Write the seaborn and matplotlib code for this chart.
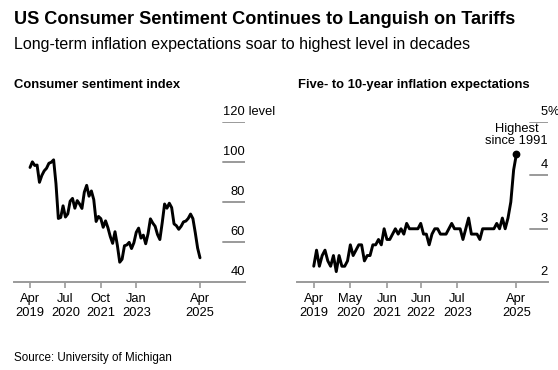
import matplotlib
matplotlib.use("Agg")
import matplotlib.pyplot as plt
import matplotlib.transforms as mtransforms
import seaborn as sns
import pandas as pd
import numpy as np

# ---------------- data ----------------
# monthly, April 2019 .. April 2025 (73 months)
sentiment = [
    97.2, 100.0, 98.2, 98.4, 89.8, 93.2, 95.5, 96.8, 99.3,            # 2019 Apr-Dec
    99.8, 101.0, 89.1, 71.8, 72.3, 78.1, 72.5, 74.1, 80.4, 81.8, 76.9, 80.7,  # 2020
    79.0, 76.8, 84.9, 88.3, 82.9, 85.5, 81.2, 70.3, 72.8, 71.7, 67.4, 70.6,  # 2021
    67.2, 62.8, 59.4, 65.2, 58.4, 50.0, 51.5, 58.2, 58.6, 59.9, 56.8, 59.7,  # 2022
    64.9, 67.0, 62.0, 63.5, 59.2, 64.2, 71.6, 69.5, 67.9, 63.8, 61.3, 69.7,  # 2023
    79.0, 76.9, 79.4, 77.2, 69.1, 68.2, 66.4, 67.9, 70.1, 70.5, 71.8, 74.0,  # 2024
    71.7, 64.7, 57.0, 52.2,                                             # 2025 Jan-Apr
]
inflation_exp = [
    2.3, 2.6, 2.3, 2.5, 2.6, 2.4, 2.3, 2.5, 2.2,                      # 2019 Apr-Dec
    2.5, 2.3, 2.3, 2.4, 2.7, 2.5, 2.6, 2.7, 2.7, 2.4, 2.5, 2.5,        # 2020
    2.7, 2.7, 2.8, 2.7, 3.0, 2.8, 2.8, 2.9, 3.0, 2.9, 3.0, 2.9,        # 2021
    3.1, 3.0, 3.0, 3.0, 3.0, 3.1, 2.9, 2.9, 2.7, 2.9, 3.0, 3.0,        # 2022
    2.9, 2.9, 2.9, 3.0, 3.1, 3.0, 3.0, 3.0, 2.8, 3.0, 3.2, 2.9,        # 2023
    2.9, 2.9, 2.8, 3.0, 3.0, 3.0, 3.0, 3.0, 3.1, 3.0, 3.2, 3.0,        # 2024
    3.2, 3.5, 4.1, 4.4,                                                # 2025
]
months = pd.date_range("2019-04-01", "2025-04-01", freq="MS")
month_idx = list(range(len(months)))

left_ticks = ["2019-04", "2020-07", "2021-10", "2023-01", "2025-04"]
right_ticks = ["2019-04", "2020-05", "2021-06", "2022-06", "2023-07", "2025-04"]
left_yticks = [40, 60, 80, 100, 120]
right_yticks = [2, 3, 4, 5]

title = "US Consumer Sentiment Continues to Languish on Tariffs"
subtitle = "Long-term inflation expectations soar to highest level in decades"
left_title = "Consumer sentiment index"
right_title = "Five- to 10-year inflation expectations"
source = "Source: University of Michigan"

df = pd.DataFrame({"m": month_idx, "sent": sentiment, "infl": inflation_exp})

# ---------------- style ----------------
sns.set_theme(style="white")
plt.rcParams["font.family"] = ["Liberation Sans", "DejaVu Sans"]

W, H = 558, 370
fig = plt.figure(figsize=(W / 100, H / 100), dpi=100)

def px_ax(x0, x1, ytop, ybot):
    return fig.add_axes([x0 / W, 1 - ybot / H, (x1 - x0) / W, (ybot - ytop) / H])

axL = px_ax(14, 245, 121.7, 282.3)
axR = px_ax(296.7, 547.5, 121.7, 282.3)

GRAY = "#9a9a9a"
TXT = "#000000"
FS = 9.3

def month_pos(s):
    p = pd.Period(s, "M") - pd.Period("2019-04", "M")
    return p.n

def style_axis(ax, yticks, grid_start, fmt_first, unit):
    for sp in ["top", "right", "left"]:
        ax.spines[sp].set_visible(False)
    ax.spines["bottom"].set_color(GRAY)
    ax.spines["bottom"].set_linewidth(1.4)
    ax.set_yticks([])
    ax.set_ylabel("")
    ax.set_xlabel("")
    ax.tick_params(axis="x", direction="out", length=4, width=1.2, color=GRAY,
                   pad=4, labelsize=FS, labelcolor=TXT, bottom=True)
    for lab in ax.get_xticklabels():
        lab.set_linespacing(1.15)
    trans = mtransforms.blended_transform_factory(ax.transAxes, ax.transData)
    for i, v in enumerate(yticks):
        if i > 0:
            ax.axhline(v, xmin=grid_start, xmax=1, color=GRAY, lw=1.4, zorder=1)
        ax.annotate(fmt_first(v), xy=(1, v), xycoords=trans, xytext=(0, 3.0),
                    textcoords="offset points", ha="right", va="bottom",
                    fontsize=FS, color=TXT, annotation_clip=False)
        if i == len(yticks) - 1:
            ax.annotate(unit, xy=(1, v), xycoords=trans, xytext=(0, 3.0),
                        textcoords="offset points", ha="left", va="bottom",
                        fontsize=FS, color=TXT, annotation_clip=False)

# left panel
sns.lineplot(data=df, x="m", y="sent", ax=axL, color="black", lw=2.1, zorder=3)
axL.set_xlim(-6.78, 91.06)
axL.set_ylim(40, 120)
axL.set_xticks([month_pos(t) for t in left_ticks])
axL.set_xticklabels([pd.Period(t, "M").strftime("%b\n%Y") for t in left_ticks])
style_axis(axL, left_yticks, (223 - 14) / 231, lambda v: f"{v:g}", " level")

# right panel
sns.lineplot(data=df, x="m", y="infl", ax=axR, color="black", lw=2.1, zorder=3)
last = df.iloc[-1]
axR.plot([last["m"]], [last["infl"]], "o", color="black", ms=4.6, zorder=4, clip_on=False)
axR.annotate("Highest\nsince 1991", xy=(last["m"], last["infl"]), xytext=(0, 5),
             textcoords="offset points", ha="center", va="bottom", fontsize=FS,
             color=TXT, linespacing=1.0, annotation_clip=False)
axR.set_xlim(-6.05, 83.03)
axR.set_ylim(2, 5)
axR.set_xticks([month_pos(t) for t in right_ticks])
axR.set_xticklabels([pd.Period(t, "M").strftime("%b\n%Y") for t in right_ticks])
style_axis(axR, right_yticks, (530 - 296.7) / 250.8, lambda v: f"{v:g}", "%")

# texts
fig.text(14 / W, 1 - 19.5 / H, title, fontsize=13.05, fontweight="bold", color=TXT,
         ha="left", va="center")
fig.text(14 / W, 1 - 44 / H, subtitle, fontsize=11.5, color=TXT, ha="left", va="center")
fig.text(14 / W, 1 - 85 / H, left_title, fontsize=9.4, fontweight="bold", color=TXT,
         ha="left", va="center")
fig.text(297.5 / W, 1 - 85 / H, right_title, fontsize=9.4, fontweight="bold", color=TXT,
         ha="left", va="center")
fig.text(14 / W, 1 - 357.5 / H, source, fontsize=8.4, color=TXT, ha="left", va="center")

fig.savefig("out.png", dpi=100, facecolor="white")
